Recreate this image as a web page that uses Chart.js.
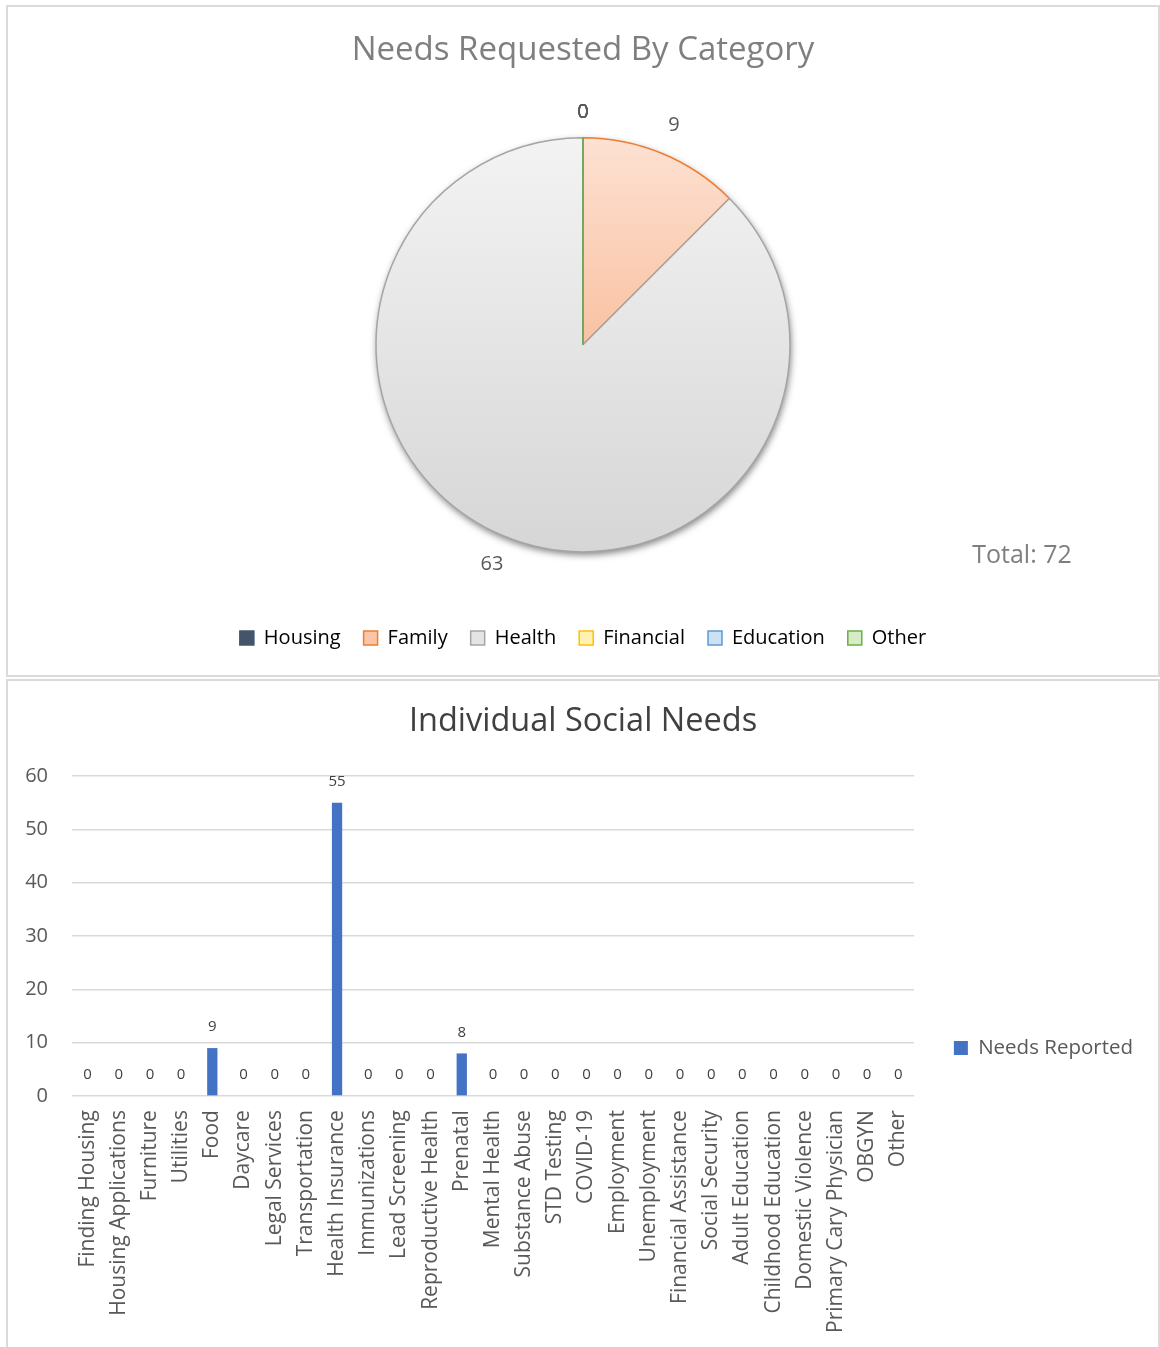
<!DOCTYPE html>
<html>
<head>
<meta charset="utf-8">
<script src="https://cdn.jsdelivr.net/npm/chart.js@4.4.0/dist/chart.umd.min.js"></script>
<style>
  html, body { margin: 0; padding: 0; background: #fff; overflow: hidden; }
  body { width: 1160px; height: 1347px; position: relative; font-family: "Open Sans", sans-serif; }
  .panel { position: absolute; left: 6px; width: 1150px; border: 2px solid #dadada; background: #fff; }
  #piePanel { top: 5px; height: 668px; }
  #barPanel { top: 679px; height: 700px; }
  canvas { position: absolute; left: 0; top: 0; }
</style>
</head>
<body>
<div class="panel" id="piePanel"><canvas id="pieChart" width="1150" height="668"></canvas></div>
<div class="panel" id="barPanel"><canvas id="barChart" width="1150" height="666"></canvas></div>

<script>
// ---------------------------------------------------------
// DATA
// ---------------------------------------------------------
const pieCategories = ['Housing', 'Family', 'Health', 'Financial', 'Education', 'Other'];
const pieValues = [0, 9, 63, 0, 0, 0];

const needCategories = [
    'Finding Housing', 'Housing Applications', 'Furniture', 'Utilities', 'Food',
    'Daycare', 'Legal Services', 'Transportation', 'Health Insurance', 'Immunizations',
    'Lead Screening', 'Reproductive Health', 'Prenatal', 'Mental Health', 'Substance Abuse',
    'STD Testing', 'COVID-19', 'Employment', 'Unemployment', 'Financial Assistance',
    'Social Security', 'Adult Education', 'Childhood Education', 'Domestic Violence',
    'Primary Cary Physician', 'OBGYN', 'Other'
];
const needValues = [0, 0, 0, 0, 9, 0, 0, 0, 55, 0, 0, 0, 8, 0, 0, 0, 0, 0, 0, 0, 0, 0, 0, 0, 0, 0, 0];
const yTickValues = [0, 10, 20, 30, 40, 50, 60];

const FONT = '"Open Sans", "Noto Sans", sans-serif';

// slice styles
const pieBorders = ['#44546a', '#ed7d31', '#a5a5a5', '#ffc000', '#5b9bd5', '#70ad47'];
const pieGradients = [
    ['#5a6a82', '#3a475b'],
    ['#fde1d2', '#f5a272'],
    ['#f3f3f3', '#d6d6d6'],
    ['#fff4cc', '#ffd966'],
    ['#dbe9f7', '#9dc3e6'],
    ['#e2f0d9', '#a9d18e']
];
const legendFills = ['#44546a', '#fbc6a8', '#e4e4e4', '#fff0b3', '#cde1f5', '#d5ecc6'];
const PIE_RADIUS = 207;

// ---------------------------------------------------------
// PIE PLUGINS
// ---------------------------------------------------------
const pieDecor = {
    id: 'pieDecor',
    beforeDatasetsDraw(chart) {
        const arc = chart.getDatasetMeta(0).data[0];
        if (!arc) return;
        const ctx = chart.ctx;
        ctx.save();
        ctx.shadowColor = 'rgba(0,0,0,0.5)';
        ctx.shadowBlur = 7;
        ctx.shadowOffsetX = 1;
        ctx.shadowOffsetY = 3;
        ctx.beginPath();
        ctx.arc(arc.x, arc.y, arc.outerRadius, 0, Math.PI * 2);
        ctx.fillStyle = '#e0e0e0';
        ctx.fill();
        ctx.restore();
    },
    afterDatasetsDraw(chart) {
        const ctx = chart.ctx;
        const meta = chart.getDatasetMeta(0);
        const data = chart.data.datasets[0].data;
        ctx.save();
        // zero-size slices still show their edge line
        meta.data.forEach((arc, i) => {
            if (data[i] !== 0) return;
            ctx.beginPath();
            ctx.moveTo(arc.x, arc.y);
            ctx.lineTo(arc.x + Math.cos(arc.startAngle) * arc.outerRadius,
                       arc.y + Math.sin(arc.startAngle) * arc.outerRadius);
            ctx.strokeStyle = pieBorders[i];
            ctx.lineWidth = 1.5;
            ctx.stroke();
        });
        // value labels outside the pie (zeros stack at the top)
        ctx.font = '20px ' + FONT;
        ctx.fillStyle = '#595959';
        ctx.textAlign = 'center';
        ctx.textBaseline = 'middle';
        meta.data.forEach((arc, i) => {
            const mid = (arc.startAngle + arc.endAngle) / 2;
            const r = arc.outerRadius + (data[i] === 0 ? 26 : 31);
            ctx.fillText(String(data[i]), arc.x + Math.cos(mid) * r, arc.y + Math.sin(mid) * r);
        });
        // total
        const total = data.reduce((a, b) => a + b, 0);
        ctx.font = '25px ' + FONT;
        ctx.fillStyle = '#7f7f7f';
        ctx.fillText('Total: ' + total, 1014, 549);
        ctx.restore();
    }
};

function sliceFill(ctx) {
    const chart = ctx.chart;
    const area = chart.chartArea;
    const colors = pieGradients[ctx.dataIndex];
    if (!area) return colors[0];
    const cy = (area.top + area.bottom) / 2;
    const g = chart.ctx.createLinearGradient(0, cy - PIE_RADIUS, 0, cy + PIE_RADIUS);
    g.addColorStop(0, colors[0]);
    g.addColorStop(1, colors[1]);
    return g;
}

new Chart(document.getElementById('pieChart'), {
    type: 'pie',
    data: {
        labels: pieCategories,
        datasets: [{
            data: pieValues,
            backgroundColor: sliceFill,
            borderColor: pieBorders,
            borderWidth: 1.5
        }]
    },
    options: {
        responsive: false,
        animation: false,
        radius: PIE_RADIUS,
        layout: { padding: { bottom: 17 } },
        plugins: {
            title: {
                display: true,
                text: 'Needs Requested By Category',
                color: '#7f7f7f',
                font: { family: FONT, size: 33, weight: 'normal' },
                padding: { top: 24, bottom: 14 }
            },
            legend: {
                position: 'bottom',
                labels: {
                    color: '#7f7f7f',
                    font: { family: FONT, size: 20 },
                    boxWidth: 14,
                    boxHeight: 14,
                    padding: 23,
                    generateLabels: () => pieCategories.map((c, i) => ({
                        text: c,
                        fillStyle: legendFills[i],
                        strokeStyle: pieBorders[i],
                        lineWidth: 1.5,
                        hidden: false,
                        index: i
                    }))
                }
            },
            tooltip: { enabled: false }
        }
    },
    plugins: [pieDecor]
});

// ---------------------------------------------------------
// BAR CHART
// ---------------------------------------------------------
const barValueLabels = {
    id: 'barValueLabels',
    afterDatasetsDraw(chart) {
        const ctx = chart.ctx;
        const meta = chart.getDatasetMeta(0);
        const data = chart.data.datasets[0].data;
        ctx.save();
        ctx.font = '15px ' + FONT;
        ctx.fillStyle = '#404040';
        ctx.textAlign = 'center';
        ctx.textBaseline = 'middle';
        meta.data.forEach((bar, i) => {
            ctx.fillText(String(data[i]), bar.x, bar.y - 21);
        });
        ctx.restore();
    }
};

new Chart(document.getElementById('barChart'), {
    type: 'bar',
    data: {
        labels: needCategories,
        datasets: [{
            label: 'Needs Reported',
            data: needValues,
            backgroundColor: '#4472c4',
            categoryPercentage: 1,
            barPercentage: 0.33
        }]
    },
    options: {
        responsive: false,
        animation: false,
        layout: { padding: { left: 15, right: 15, bottom: 0 } },
        plugins: {
            title: {
                display: true,
                text: 'Individual Social Needs',
                color: '#404040',
                font: { family: FONT, size: 32.5, weight: 'normal' },
                padding: { top: 21, bottom: 35 }
            },
            legend: {
                position: 'right',
                title: { display: true, text: ' ', font: { size: 10 }, padding: { top: 28, bottom: 28 } },
                labels: {
                    color: '#595959',
                    font: { family: FONT, size: 20.5 },
                    boxWidth: 14,
                    boxHeight: 14,
                    padding: 40
                }
            },
            tooltip: { enabled: false }
        },
        scales: {
            x: {
                grid: { display: false, drawTicks: false },
                border: { display: false },
                ticks: {
                    color: '#595959',
                    font: { family: FONT, size: 21 },
                    minRotation: 90,
                    maxRotation: 90,
                    autoSkip: false,
                    padding: 14
                }
            },
            y: {
                min: yTickValues[0],
                max: yTickValues[yTickValues.length - 1],
                grid: { color: '#d9d9d9', lineWidth: 1.5, drawTicks: false },
                border: { display: false },
                afterBuildTicks: axis => { axis.ticks = yTickValues.map(v => ({ value: v })); },
                afterFit: axis => { axis.width = 49; },
                ticks: {
                    color: '#595959',
                    font: { family: FONT, size: 20 },
                    padding: 24
                }
            }
        }
    },
    plugins: [barValueLabels]
});
</script>
</body>
</html>
